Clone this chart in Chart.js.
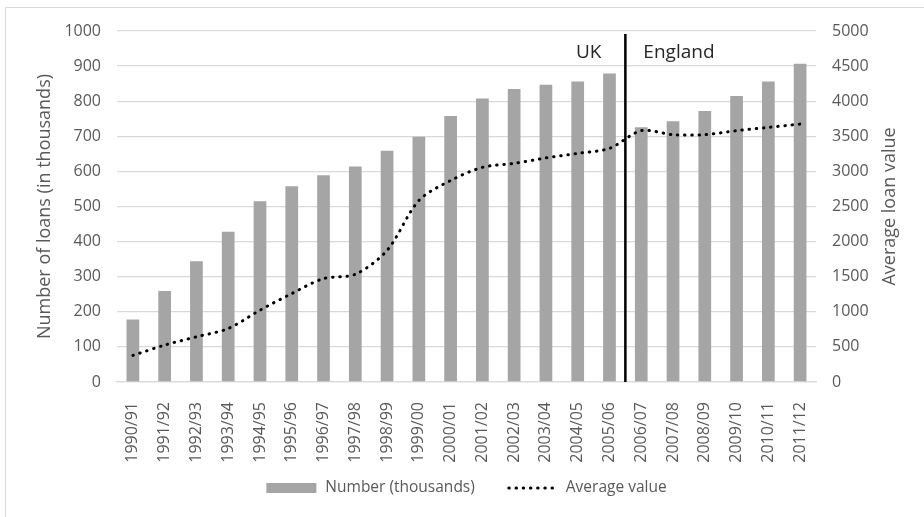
<!DOCTYPE html>
<html>
<head>
<meta charset="utf-8">
<script src="https://cdn.jsdelivr.net/npm/chart.js@4.4.1/dist/chart.umd.min.js"></script>
<style>
  html, body { margin: 0; padding: 0; background: #fff; }
  #wrap { position: relative; width: 924px; height: 517px; }
  #frame { position: absolute; left: 5px; top: 7px; right: -5px; bottom: -5px;
           border-top: 1px solid #d9d9d9; border-left: 1px solid #d9d9d9; pointer-events: none; }
</style>
</head>
<body>
<div id="wrap">
  <canvas id="loanChart"></canvas>
  <div id="frame"></div>
</div>
<script>
const years = ['1990/91', '1991/92', '1992/93', '1993/94', '1994/95', '1995/96', '1996/97', '1997/98',
               '1998/99', '1999/00', '2000/01', '2001/02', '2002/03', '2003/04', '2004/05', '2005/06',
               '2006/07', '2007/08', '2008/09', '2009/10', '2010/11', '2011/12'];

// number of loans, thousands (left axis)
const loansThousands = [178, 259, 344, 428, 515, 558, 589, 614, 659, 699, 758,
                        808, 835, 847, 856, 879, 726, 743, 772, 815, 856, 907];

// average loan value (right axis)
const avgValue = [379, 526, 644, 762, 1023, 1260, 1473, 1534, 1875, 2585, 2870,
                  3058, 3115, 3192, 3257, 3328, 3580, 3523, 3523, 3580, 3627, 3674];

const leftTicks = { min: 0, max: 1000, step: 100 };
const rightTicks = { min: 0, max: 5000, step: 500 };

// boundary between UK and England series (between 2005/06 and 2006/07)
const splitIndex = 15.5;
const splitLabels = ['UK', 'England'];
const rightTitle = 'Average loan value';

const tickFont = { family: 'Open Sans', size: 16 };
const titleFont = { family: 'Open Sans', size: 18 };
const axisGrey = '#595959';
const barGrey = '#a5a5a5';
const dotDash = [0.5, 6.7];

const splitPlugin = {
    id: 'splitLine',
    afterDatasetsDraw(chart) {
        const { ctx, chartArea, scales } = chart;
        const x = scales.x.getPixelForValue(splitIndex);
        ctx.save();
        ctx.strokeStyle = '#000';
        ctx.lineWidth = 2.5;
        ctx.beginPath();
        ctx.moveTo(x, chartArea.top + 3);
        ctx.lineTo(x, chartArea.bottom);
        ctx.stroke();

        ctx.fillStyle = '#262626';
        ctx.font = '19px "Open Sans"';
        ctx.textBaseline = 'middle';
        const ty = chartArea.top + 22;
        ctx.textAlign = 'right';
        ctx.fillText(splitLabels[0], x - 24, ty);
        ctx.textAlign = 'left';
        ctx.fillText(splitLabels[1], x + 18, ty);

        // right axis title, reading bottom to top like the left one
        const tx = scales.y1.right - 24;
        const tyc = (chartArea.top + chartArea.bottom) / 2;
        ctx.translate(tx, tyc);
        ctx.rotate(-Math.PI / 2);
        ctx.fillStyle = axisGrey;
        ctx.font = titleFont.size + 'px "Open Sans"';
        ctx.textAlign = 'center';
        ctx.fillText(rightTitle, 0, 0);
        ctx.restore();
    }
};

// Excel-style legend: wide swatches and a big gap between the two entries
const legendPlugin = {
    id: 'wideLegend',
    afterDraw(chart) {
        const { ctx, chartArea } = chart;
        const bars = chart.data.datasets[1];
        const line = chart.data.datasets[0];
        const swatch = 50, gapText = 9, gapItem = 32;
        const y = chart.height - 29;
        ctx.save();
        ctx.font = '15.5px "Open Sans"';
        ctx.textBaseline = 'middle';
        ctx.textAlign = 'left';
        const w1 = ctx.measureText(bars.label).width;
        const w2 = ctx.measureText(line.label).width;
        const total = swatch + gapText + w1 + gapItem + swatch + gapText + w2;
        let x = (chartArea.left + chartArea.right) / 2 - total / 2;

        ctx.fillStyle = bars.backgroundColor;
        ctx.fillRect(x, y - 5, swatch, 10);
        x += swatch + gapText;
        ctx.fillStyle = axisGrey;
        ctx.fillText(bars.label, x, y);
        x += w1 + gapItem;

        ctx.strokeStyle = line.borderColor;
        ctx.lineWidth = line.borderWidth;
        ctx.lineCap = 'round';
        ctx.setLineDash(dotDash);
        ctx.beginPath();
        ctx.moveTo(x + 2, y);
        ctx.lineTo(x + swatch, y);
        ctx.stroke();
        ctx.setLineDash([]);
        x += swatch + gapText;
        ctx.fillText(line.label, x, y);
        ctx.restore();
    }
};

document.addEventListener('DOMContentLoaded', function() {
    const ctx = document.getElementById('loanChart').getContext('2d');

    new Chart(ctx, {
        type: 'bar',
        data: {
            labels: years,
            datasets: [
                {
                    type: 'line',
                    label: 'Average value',
                    data: avgValue,
                    yAxisID: 'y1',
                    borderColor: '#000',
                    borderWidth: 3,
                    borderDash: dotDash,
                    borderCapStyle: 'round',
                    pointRadius: 0,
                    tension: 0.3,
                    fill: false,
                    order: 0
                },
                {
                    label: 'Number (thousands)',
                    data: loansThousands,
                    yAxisID: 'y',
                    backgroundColor: barGrey,
                    barPercentage: 0.4,
                    categoryPercentage: 1.0,
                    order: 1
                }
            ]
        },
        options: {
            responsive: true,
            maintainAspectRatio: false,
            animation: false,
            layout: { padding: { left: 20, right: 10, top: 31, bottom: 48 } },
            scales: {
                x: {
                    grid: { display: false },
                    border: { display: true, color: '#d9d9d9', width: 1.3 },
                    ticks: {
                        color: axisGrey,
                        font: tickFont,
                        minRotation: 90,
                        maxRotation: 90,
                        padding: 12,
                        autoSkip: false
                    },
                    afterFit(scale) { scale.height = 87; }
                },
                y: {
                    position: 'left',
                    min: leftTicks.min,
                    max: leftTicks.max,
                    ticks: {
                        stepSize: leftTicks.step, color: axisGrey, font: tickFont, padding: 16,
                        callback: v => String(v)
                    },
                    grid: { color: '#d9d9d9', lineWidth: 1.3, drawTicks: false },
                    border: { display: false },
                    title: {
                        display: true,
                        text: 'Number of loans (in thousands)',
                        color: axisGrey,
                        font: titleFont,
                        padding: { top: 14, bottom: 0 }
                    },
                    afterFit(scale) { scale.width = 97; }
                },
                y1: {
                    position: 'right',
                    min: rightTicks.min,
                    max: rightTicks.max,
                    ticks: {
                        stepSize: rightTicks.step, color: axisGrey, font: tickFont, padding: 16,
                        callback: v => String(v)
                    },
                    grid: { display: false, drawTicks: false },
                    border: { display: false },
                    afterFit(scale) { scale.width = 98; }
                }
            },
            plugins: {
                legend: { display: false },
                tooltip: { enabled: false }
            }
        },
        plugins: [splitPlugin, legendPlugin]
    });
});
</script>
</body>
</html>
